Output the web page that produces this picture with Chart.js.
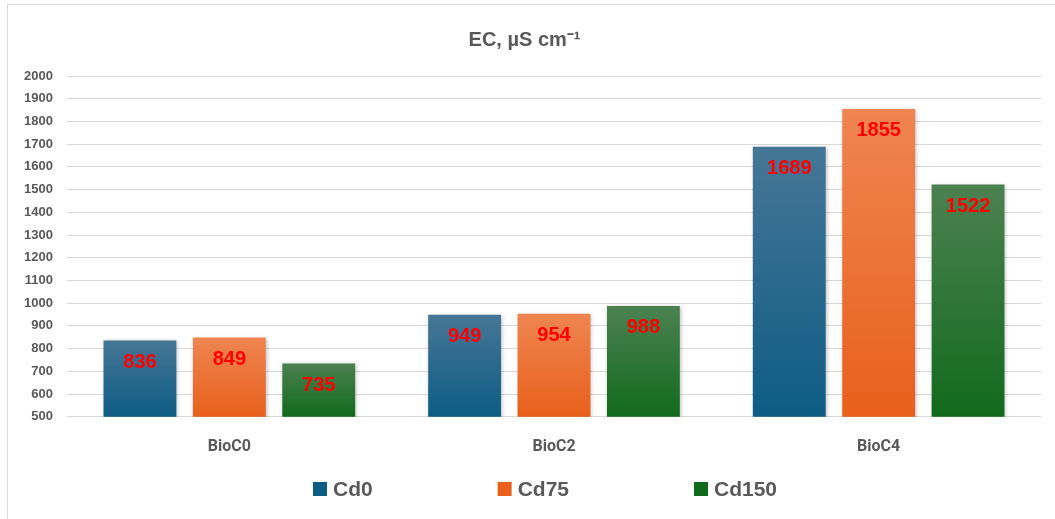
<!DOCTYPE html>
<html>
<head>
<meta charset="utf-8">
<script src="https://cdn.jsdelivr.net/npm/chart.js@4.4.1/dist/chart.umd.min.js"></script>
<style>
  html, body { margin: 0; padding: 0; background: #fff; }
  #wrap { position: relative; box-sizing: border-box;
          border-left: 1px solid #d9d9d9; border-top: 1px solid #d9d9d9; margin-left: 7px; margin-top: 4px;
          width: 1048px; height: 515px; }
</style>
</head>
<body>
<div id="wrap"><canvas id="canvas" width="1047" height="514"></canvas></div>
<script>
var categories = ['BioC0', 'BioC2', 'BioC4'];
var seriesNames = ['Cd0', 'Cd75', 'Cd150'];
var cd0 = [836, 949, 1689];
var cd75 = [849, 954, 1855];
var cd150 = [735, 988, 1522];
var yTicks = [500, 600, 700, 800, 900, 1000, 1100, 1200, 1300, 1400, 1500, 1600, 1700, 1800, 1900, 2000];

// top / bottom colours of each bar gradient
var topColors = ['#467696', '#ef8551', '#4c8151'];
var bottomColors = ['#0d5c84', '#e8601b', '#116a1c'];

function barGradient(i) {
  return function(context) {
    var chart = context.chart;
    var area = chart.chartArea;
    if (!area || context.type !== 'data') return bottomColors[i];
    var y = chart.scales.y;
    var top = y.getPixelForValue(context.raw);
    var bottom = y.getPixelForValue(500);
    var g = chart.ctx.createLinearGradient(0, top, 0, bottom);
    g.addColorStop(0, topColors[i]);
    g.addColorStop(1, bottomColors[i]);
    return g;
  };
}

var valueLabels = {
  id: 'valueLabels',
  afterDatasetsDraw: function(chart) {
    var ctx = chart.ctx;
    ctx.save();
    ctx.fillStyle = '#ff0000';
    ctx.font = 'bold 20px "Liberation Sans", Arial, sans-serif';
    ctx.textAlign = 'center';
    ctx.textBaseline = 'middle';
    chart.data.datasets.forEach(function(ds, di) {
      chart.getDatasetMeta(di).data.forEach(function(bar, i) {
        ctx.fillText(ds.data[i], bar.x, bar.y + 22);
      });
    });
    ctx.restore();
  }
};

var customLegend = {
  id: 'customLegend',
  afterDraw: function(chart) {
    var ctx = chart.ctx;
    ctx.save();
    ctx.font = 'bold 21px "Liberation Sans", Arial, sans-serif';
    ctx.textBaseline = 'middle';
    var box = 14, gapText = 6, gap = 125;
    var widths = chart.data.datasets.map(function(ds) {
      return box + gapText + ctx.measureText(ds.label).width;
    });
    var total = widths.reduce(function(a, b) { return a + b; }, 0) + gap * (widths.length - 1);
    var x = 537 - total / 2;
    var y = 484;
    chart.data.datasets.forEach(function(ds, i) {
      ctx.fillStyle = bottomColors[i];
      ctx.fillRect(x, y - box / 2, box, box);
      ctx.fillStyle = '#595959';
      ctx.fillText(ds.label, x + box + gapText, y + 1);
      x += widths[i] + gap;
    });
    ctx.restore();
  }
};

var barShadow = {
  id: 'barShadow',
  beforeDatasetsDraw: function(chart) {
    chart.ctx.save();
    chart.ctx.shadowColor = 'rgba(0,0,0,0.25)';
    chart.ctx.shadowBlur = 4;
    chart.ctx.shadowOffsetX = 1;
    chart.ctx.shadowOffsetY = 1;
  },
  afterDatasetsDraw: function(chart) {
    chart.ctx.restore();
  }
};

window.onload = function() {
  var ctx = document.getElementById('canvas').getContext('2d');
  window.myBar = new Chart(ctx, {
    type: 'bar',
    data: {
      labels: categories,
      datasets: [
        { label: seriesNames[0], data: cd0, backgroundColor: barGradient(0) },
        { label: seriesNames[1], data: cd75, backgroundColor: barGradient(1) },
        { label: seriesNames[2], data: cd150, backgroundColor: barGradient(2) }
      ]
    },
    plugins: [barShadow, valueLabels, customLegend],
    options: {
      responsive: false,
      animation: false,
      layout: { padding: { left: 0, right: 14, top: 0, bottom: 49 } },
      datasets: {
        bar: { categoryPercentage: 0.826, barPercentage: 0.815 }
      },
      plugins: {
        legend: { display: false },
        tooltip: { enabled: false },
        title: {
          display: true,
          text: 'EC, µS cm⁻¹',
          color: '#595959',
          font: { family: '"Liberation Sans", Arial, sans-serif', size: 20, weight: 'bold' },
          padding: { top: 23, bottom: 24 }
        }
      },
      scales: {
        x: {
          grid: { display: false },
          border: { display: false },
          ticks: {
            color: '#595959',
            padding: 13,
            font: { family: 'Roboto, "Liberation Sans", sans-serif', size: 16, weight: 'bold' }
          }
        },
        y: {
          min: yTicks[0],
          max: yTicks[yTicks.length - 1],
          afterBuildTicks: function(axis) {
            axis.ticks = yTicks.map(function(v) { return { value: v }; });
          },
          afterFit: function(axis) { axis.width = 59; },
          grid: { color: '#d9d9d9', lineWidth: 1, drawTicks: false },
          border: { display: false },
          ticks: {
            color: '#595959',
            padding: 14,
            callback: function(v) { return String(v); },
            font: { family: '"Liberation Sans", Arial, sans-serif', size: 13, weight: 'bold' }
          }
        }
      }
    }
  });
};
</script>
</body>
</html>
